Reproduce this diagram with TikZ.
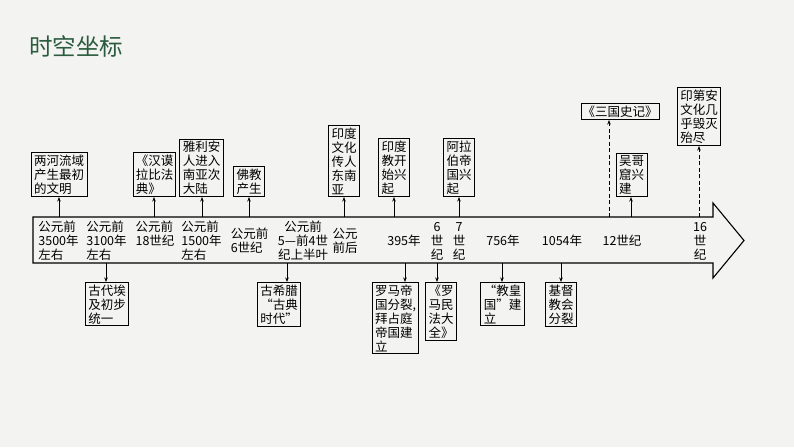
\documentclass[tikz,border=0pt]{standalone}
\usepackage{fontspec}
\setmainfont{Noto Sans CJK SC}
\usetikzlibrary{arrows.meta}
\definecolor{bg}{RGB}{243,243,241}
\definecolor{titlegreen}{RGB}{44,92,64}
\begin{document}
\begin{tikzpicture}[x=1pt,y=-1pt,
  evbox/.style={draw=black, line width=1pt, inner xsep=3pt, inner ysep=2pt, align=left, font=\fontsize{12.5}{14}\selectfont},
  lbl/.style={inner sep=0pt, align=left, font=\fontsize{12.5}{14}\selectfont},
  lblc/.style={lbl, align=center},
  link/.style={line width=0.8pt, -{Stealth[length=4.5pt,width=3.5pt]}},
  dlink/.style={link, dash pattern=on 4pt off 2.5pt}]
\useasboundingbox (0,0) rectangle (794,447);
\fill[bg] (0,0) rectangle (794,447);
\node[anchor=west, text=titlegreen, font=\fontsize{23.5}{26}\selectfont, inner sep=0pt] (title) at (29,46) {时空坐标};
% main arrow
\draw[line width=1.1pt, line join=miter] (33,217) -- (713,217) -- (713,203) -- (744,240.5) -- (713,278) -- (713,263) -- (33,263) -- cycle;
% labels on axis
\node[lbl] (t1) at (58.5,241) {公元前\\3500年\\左右};
\node[lbl] (t2) at (106.5,241) {公元前\\3100年\\左右};
\node[lbl] (t3) at (155,234) {公元前\\18世纪};
\node[lbl] (t4) at (201.5,241) {公元前\\1500年\\左右};
\node[lbl] (t5) at (249.5,240.5) {公元前\\6世纪};
\node[lblc] (t6) at (303,241) {公元前\\5—前4世\\纪上半叶};
\node[lbl] (t7) at (345,240.5) {公元\\前后};
\node[lbl] (t8) at (404,241) {395年};
\node[lblc] (t9) at (437,241) {6\\世\\纪};
\node[lblc] (t10) at (459,241) {7\\世\\纪};
\node[lbl] (t11) at (503,241) {756年};
\node[lbl] (t12) at (562,241) {1054年};
\node[lbl] (t13) at (622,241) {12世纪};
\node[lblc] (t14) at (700,241) {16\\世\\纪};
% top boxes
\node[evbox, anchor=south] (A) at (59,197) {两河流域\\产生最初\\的文明};
\node[evbox, anchor=south, inner xsep=2pt] (B) at (154.5,197) {《汉谟\\拉比法\\典》};
\node[evbox, anchor=south] (C) at (201.5,197) {雅利安\\人进入\\南亚次\\大陆};
\node[evbox, anchor=south] (D) at (249,197) {佛教\\产生};
\node[evbox, anchor=south] (E) at (344,197) {印度\\文化\\传人\\东南\\亚};
\node[evbox, anchor=south] (F) at (394,197) {印度\\教开\\始兴\\起};
\node[evbox, anchor=south] (G) at (459,197) {阿拉\\伯帝\\国兴\\起};
\node[evbox, anchor=south, inner xsep=1.5pt] (H) at (620,120) {《三国史记》};
\node[evbox, anchor=south] (I) at (631.5,197) {吴哥\\窟兴\\建};
\node[evbox, anchor=south] (J) at (699,146) {印第安\\文化几\\乎毁灭\\殆尽};
% bottom boxes
\node[evbox, anchor=north] (K) at (107,282) {古代埃\\及初步\\统一};
\node[evbox, anchor=north, align=center] (L) at (279,282) {古希腊\\“古典\\时代”};
\node[evbox, anchor=north] (M) at (395.5,282) {罗马帝\\国分裂,\\拜占庭\\帝国建\\立};
\node[evbox, anchor=north] (N) at (441,282) {《罗\\马民\\法大\\全》};
\node[evbox, anchor=north] (O) at (502.5,282) {“教皇\\国”建\\立};
\node[evbox, anchor=north] (P) at (561,282) {基督\\教会\\分裂};
% anchor coordinates on axis
\coordinate (cA) at (59,217);
\coordinate (cB) at (154,217);
\coordinate (cC) at (202,217);
\coordinate (cD) at (249,217);
\coordinate (cE) at (344,217);
\coordinate (cF) at (394,217);
\coordinate (cG) at (459,217);
\coordinate (cH) at (609,217);
\coordinate (cI) at (631,217);
\coordinate (cJ) at (699,217);
\coordinate (cK) at (106,263);
\coordinate (cL) at (287,263);
\coordinate (cM) at (405,263);
\coordinate (cN) at (437,263);
\coordinate (cO) at (502,263);
\coordinate (cP) at (561,263);
\foreach \n in {A,B,C,D,E,F,G,I} \draw[link] (c\n) -- (c\n |- \n.south);
\foreach \n in {H,J} \draw[dlink] (c\n) -- (c\n |- \n.south);
\foreach \n in {K,L,M,N,O,P} \draw[link] (c\n) -- (c\n |- \n.north);
\end{tikzpicture}
\end{document}
